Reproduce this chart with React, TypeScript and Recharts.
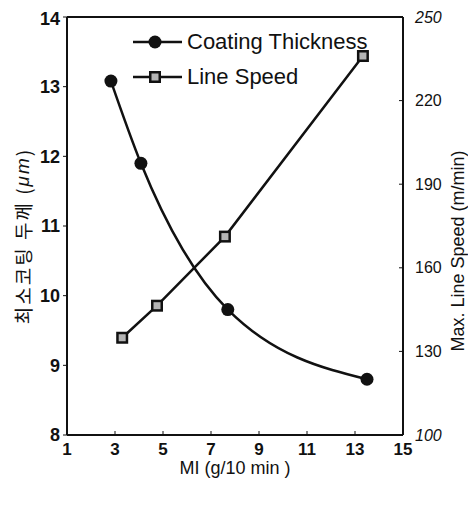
import React from "react";
import {
  ComposedChart,
  Line,
  XAxis,
  YAxis,
  ReferenceLine,
  Legend,
  Label,
} from "recharts";

// MI values (the two series sit at slightly different x)
const miCoating = [2.83, 4.08, 7.7, 13.5];
const coatingThickness = [13.08, 11.9, 9.8, 8.8];
const miSpeed = [3.3, 4.75, 7.58, 13.33];
const lineSpeed = [134.9, 146.4, 171.2, 236];

const xTicks = [1, 3, 5, 7, 9, 11, 13, 15];
const leftTicks = [8, 9, 10, 11, 12, 13, 14];
const rightTicks = [100, 130, 160, 190, 220, 250];
const italicRight = [100, 250];

const coatingData = miCoating.map((mi, i) => ({ mi, thickness: coatingThickness[i] }));
const speedData = miSpeed.map((mi, i) => ({ mi, speed: lineSpeed[i] }));

const FONT = '"Liberation Sans", Arial, sans-serif';
const INK = "#111";
const STIPPLE = "#b4b4b4";

function CircleDot(props: any) {
  const { cx, cy } = props;
  if (cx == null || cy == null) return null;
  return <circle cx={cx} cy={cy} r={6.5} fill={INK} />;
}

function SquareDot(props: any) {
  const { cx, cy } = props;
  if (cx == null || cy == null) return null;
  return (
    <g>
      <rect x={cx - 6} y={cy - 6} width={12} height={12} fill={INK} />
      <rect x={cx - 3.5} y={cy - 3.5} width={7} height={7} fill={STIPPLE} />
    </g>
  );
}

function RightTick(props: any) {
  const { x, y, payload } = props;
  const italic = italicRight.includes(payload.value);
  return (
    <text
      x={x}
      y={y}
      dy="0.355em"
      textAnchor="start"
      fontSize={16}
      fontStyle={italic ? "italic" : "normal"}
      fill={INK}
      fontFamily={FONT}
    >
      {payload.value}
    </text>
  );
}

function LegendBox() {
  const row = { display: "flex", alignItems: "center", height: 20 } as const;
  const txt = { fontSize: 22, color: INK, fontFamily: FONT, marginLeft: 5, lineHeight: "20px", whiteSpace: "nowrap" } as const;
  return (
    <div style={{ display: "flex", flexDirection: "column", gap: 15 }}>
      <div style={row}>
        <svg width={49} height={20}>
          <line x1={0} y1={10} x2={49} y2={10} stroke={INK} strokeWidth={2.5} />
          <circle cx={22} cy={10} r={6.5} fill={INK} />
        </svg>
        <span style={txt}>Coating Thickness</span>
      </div>
      <div style={row}>
        <svg width={49} height={20}>
          <line x1={0} y1={10} x2={49} y2={10} stroke={INK} strokeWidth={2.5} />
          <rect x={16} y={4} width={12} height={12} fill={INK} />
          <rect x={18.5} y={6.5} width={7} height={7} fill={STIPPLE} />
        </svg>
        <span style={txt}>Line Speed</span>
      </div>
    </div>
  );
}

export default function App() {
  return (
    <div style={{ width: 460, height: 489, fontFamily: FONT, background: "#fff" }}>
      <ComposedChart width={460} height={489} margin={{ top: 9, right: 0, bottom: 0, left: 0 }}>
        <XAxis
          dataKey="mi"
          type="number"
          domain={[1, 15]}
          ticks={xTicks}
          height={62}
          tickSize={-4}
          tickMargin={12}
          axisLine={{ stroke: INK, strokeWidth: 2 }}
          tickLine={{ stroke: INK }}
          tick={{ fill: INK, fontSize: 17, fontWeight: "bold", fontFamily: FONT }}
          allowDataOverflow
        >
          <Label
            value="MI (g/10 min )"
            position="insideBottom"
            offset={23}
            style={{ fontSize: 18, fill: INK, fontFamily: FONT }}
          />
        </XAxis>
        <YAxis
          yAxisId="left"
          orientation="left"
          domain={[8, 14]}
          ticks={leftTicks}
          width={59}
          tickSize={4}
          tickMargin={3}
          axisLine={{ stroke: INK, strokeWidth: 2 }}
          tickLine={{ stroke: INK }}
          tick={{ fill: INK, fontSize: 18, fontWeight: "bold", fontFamily: FONT }}
          label={{
            content: (p: any) => {
              const vb = p.viewBox;
              const cx = vb.x + 14;
              const cy = vb.y + vb.height / 2 + 10;
              return (
                <text
                  x={cx}
                  y={cy}
                  transform={`rotate(-90, ${cx}, ${cy})`}
                  textAnchor="middle"
                  dominantBaseline="central"
                  fontSize={19}
                  letterSpacing={2}
                  fill={INK}
                  fontFamily={'"Noto Sans CJK KR", sans-serif'}
                >
                  최소코팅 두께 (<tspan fontStyle="italic" fontFamily={FONT}>μm</tspan>)
                </text>
              );
            },
          }}
        />
        <YAxis
          yAxisId="right"
          orientation="right"
          domain={[100, 250]}
          ticks={rightTicks}
          width={65}
          tickSize={-4}
          tickMargin={16}
          axisLine={{ stroke: INK, strokeWidth: 2 }}
          tickLine={{ stroke: INK }}
          tick={<RightTick />}
          label={{
            content: (p: any) => {
              const vb = p.viewBox;
              const cx = vb.x + 55;
              const cy = vb.y + vb.height / 2 + 25;
              return (
                <text
                  x={cx}
                  y={cy}
                  transform={`rotate(-90, ${cx}, ${cy})`}
                  textAnchor="middle"
                  dominantBaseline="central"
                  fontSize={18}
                  fill={INK}
                  fontFamily={FONT}
                >
                  Max. Line Speed (m/min)
                </text>
              );
            },
          }}
        />
        <ReferenceLine yAxisId="left" y={14} stroke={INK} strokeWidth={2} />
        <Legend
          layout="vertical"
          align="center"
          verticalAlign="middle"
          content={<LegendBox />}
          wrapperStyle={{ position: "absolute", top: 24, left: 125, width: 280 }}
        />
        <Line
          yAxisId="left"
          data={coatingData}
          dataKey="thickness"
          name="Coating Thickness"
          type="monotone"
          stroke={INK}
          strokeWidth={2.5}
          dot={<CircleDot />}
          activeDot={false}
          isAnimationActive={false}
        />
        <Line
          yAxisId="right"
          data={speedData}
          dataKey="speed"
          name="Line Speed"
          type="linear"
          stroke={INK}
          strokeWidth={2.5}
          dot={<SquareDot />}
          activeDot={false}
          isAnimationActive={false}
        />
      </ComposedChart>
    </div>
  );
}
